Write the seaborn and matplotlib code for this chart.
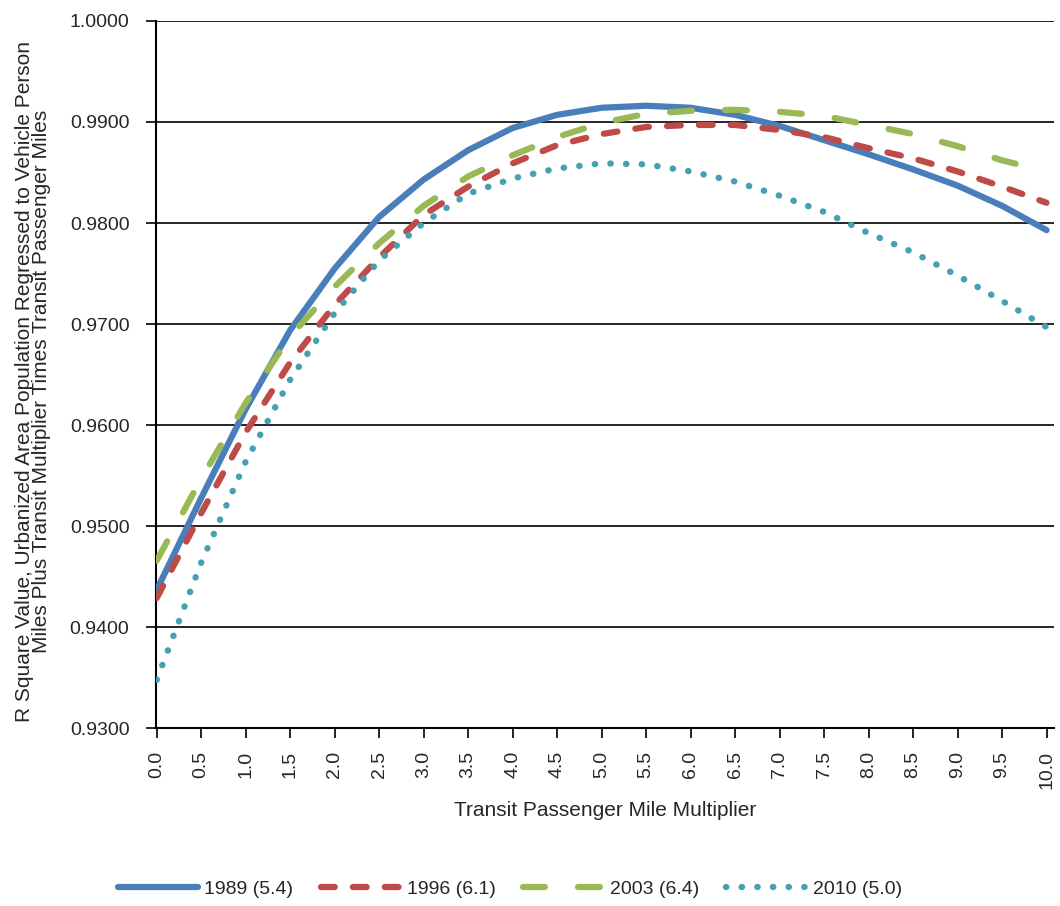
import numpy as np
import pandas as pd
import matplotlib
matplotlib.use("Agg")
import matplotlib.pyplot as plt
import seaborn as sns

multiplier = [0.0, 0.5, 1.0, 1.5, 2.0, 2.5, 3.0, 3.5, 4.0, 4.5, 5.0,
              5.5, 6.0, 6.5, 7.0, 7.5, 8.0, 8.5, 9.0, 9.5, 10.0]
r2_1989 = [0.9437, 0.9528, 0.9616, 0.9694, 0.9755, 0.9806, 0.9843, 0.9872, 0.9894, 0.9907, 0.9914,
           0.9916, 0.9914, 0.9907, 0.9896, 0.9882, 0.9868, 0.9853, 0.9837, 0.9817, 0.9793]
r2_1996 = [0.9429, 0.9513, 0.9593, 0.9662, 0.9719, 0.9766, 0.9808, 0.9836, 0.9859, 0.9877, 0.9888,
           0.9895, 0.9897, 0.9897, 0.9892, 0.9885, 0.9874, 0.9864, 0.9851, 0.9836, 0.9820]
r2_2003 = [0.9466, 0.9547, 0.9622, 0.9688, 0.9737, 0.9780, 0.9817, 0.9846, 0.9867, 0.9885, 0.9899,
           0.9908, 0.9911, 0.9912, 0.9910, 0.9906, 0.9897, 0.9888, 0.9876, 0.9862, 0.9851]
r2_2010 = [0.9348, 0.9464, 0.9564, 0.9645, 0.9711, 0.9763, 0.9800, 0.9829, 0.9844, 0.9854, 0.9859,
           0.9858, 0.9851, 0.9841, 0.9827, 0.9811, 0.9790, 0.9771, 0.9748, 0.9723, 0.9697]
series_labels = ["1989 (5.4)", "1996 (6.1)", "2003 (6.4)", "2010 (5.0)"]
y_ticks = [0.93, 0.94, 0.95, 0.96, 0.97, 0.98, 0.99, 1.00]

series = [r2_1989, r2_1996, r2_2003, r2_2010]
colors = ["#4A7EBB", "#BE4B48", "#98B954", "#45A0B4"]
styles = ["-", (0, (2.2, 2.9)), (0, (3.5, 5.3)), (0, (0.05, 2.4))]
widths = [4.5, 4.5, 4.5, 4.6]

sns.set_theme(style="white")
plt.rcParams["font.family"] = ["Liberation Sans", "DejaVu Sans"]

fig = plt.figure(figsize=(10.6, 9.06), dpi=100)
ax = fig.add_axes([0.147, 0.196, 0.847, 0.781])

for vals, lab, col, ls, lw in zip(series, series_labels, colors, styles, widths):
    df = pd.DataFrame({"x": multiplier, "y": vals})
    sns.lineplot(data=df, x="x", y="y", ax=ax, color=col, lw=lw,
                 linestyle=ls, dash_capstyle="round", solid_capstyle="round",
                 solid_joinstyle="round", dash_joinstyle="round",
                 label=lab, zorder=3)

ax.set_xlim(-0.01, 10.08)
ax.set_ylim(0.93, 1.0)
ax.set_yticks(y_ticks)
ax.set_yticklabels([f"{v:.4f}" for v in y_ticks], fontsize=14, color="#262626")
ax.set_xticks(multiplier)
ax.set_xticklabels([f"{v:.1f}" for v in multiplier], rotation=90, fontsize=14, color="#262626")
ax.yaxis.grid(True, color="black", lw=1.2)
ax.xaxis.grid(False)
ax.set_axisbelow(True)
for s in ["top", "right"]:
    ax.spines[s].set_visible(False)
for s in ["left", "bottom"]:
    ax.spines[s].set_color("black")
    ax.spines[s].set_linewidth(1.5)
ax.tick_params(axis="both", which="major", direction="out", length=7, width=1.2,
               color="black", left=True, bottom=True)
ax.tick_params(axis="y", pad=12)
ax.tick_params(axis="x", pad=9)

ax.set_xlabel("Transit Passenger Mile Multiplier", fontsize=15, color="#262626")
ax.xaxis.set_label_coords(0.5, -0.103)
ax.set_ylabel("R Square Value, Urbanized Area Population Regressed to Vehicle Person\n"
              "Miles Plus Transit Multiplier Times Transit Passenger Miles",
              fontsize=15, color="#262626", linespacing=0.85)
ax.yaxis.set_label_coords(-0.117, 0.49)

leg = ax.legend(loc="center", bbox_to_anchor=(0.481, 0.019), bbox_transform=fig.transFigure,
                ncol=4, frameon=False, fontsize=14, handlelength=4.1, handletextpad=0.35,
                columnspacing=1.4, borderaxespad=0, borderpad=0)
for t in leg.get_texts():
    t.set_color("#262626")

fig.savefig("out.png", dpi=100)
